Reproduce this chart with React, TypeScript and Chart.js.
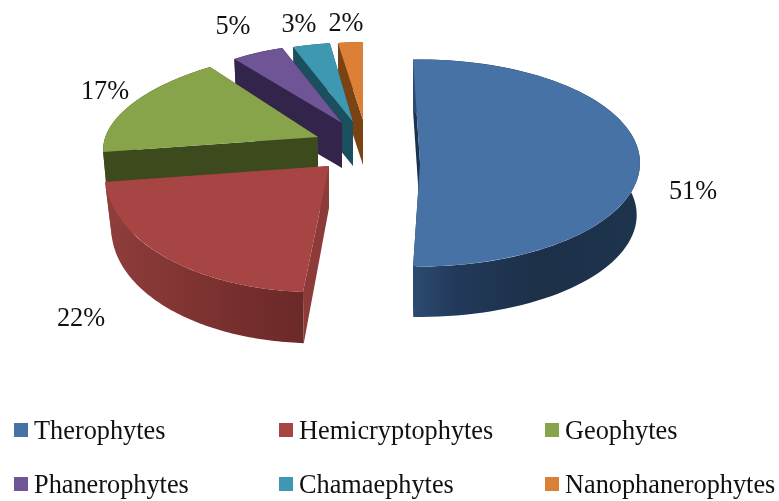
import React, { useEffect, useRef } from "react";
import { Chart, registerables } from "chart.js";

Chart.register(...registerables);

const categories = ["Therophytes", "Hemicryptophytes", "Geophytes", "Phanerophytes", "Chamaephytes", "Nanophanerophytes"];
const shares = [51, 22, 17, 5, 3, 2];
const topColors = ["#4672a6", "#a64543", "#87a44b", "#6f5496", "#3f98b2", "#da8137"];
const faceColors = ["#1b3350", "#8d3b39", "#3c4a1e", "#32244a", "#1c4f5d", "#7a4314"];
const wallStops = [
  ["#2c4b72", "#22395a", "#1c3048", "#1e344d"],
  ["#8f3e3c", "#833634", "#762f2d", "#6b2928"],
  ["#3c4a1e", "#3c4a1e", "#3c4a1e", "#3c4a1e"],
  ["#32244a", "#32244a", "#32244a", "#32244a"],
  ["#1c4f5d", "#1c4f5d", "#1c4f5d", "#1c4f5d"],
  ["#7a4314", "#7a4314", "#7a4314", "#7a4314"],
];

// Perspective frame of each exploded slice: where its tip lands, and how the flat pie is tilted there.
const frames = [
  { ox: 420, oy: 163, a: 220, b: 0, c: 0, d: 103.5, depth: 52, tipDepth: 50, shrink: 0.985 },
  { ox: 329, oy: 166, a: 223.7, b: 3.7, c: -19, d: 126.1, depth: 55, tipDepth: 42, shrink: 0.97 },
  { ox: 318, oy: 137, a: 213, b: -1, c: -28.6, d: 89.4, depth: 46, tipDepth: 45, shrink: 0.98 },
  { ox: 342, oy: 123, a: 175, b: 3, c: 0.5, d: 78.6, depth: 46, tipDepth: 45, shrink: 0.98 },
  { ox: 353, oy: 122, a: 200, b: -1, c: -8.3, d: 80, depth: 45, tipDepth: 44, shrink: 0.98 },
  { ox: 363, oy: 120, a: 200, b: 0, c: -6.3, d: 78, depth: 46, tipDepth: 45, shrink: 0.98 },
];
const labelSpots = [[693, 192], [81, 319], [105, 92], [233, 27], [299, 25], [346, 24]];
const legendColumns = [14, 279, 545];
const legendRows = [430, 484];
const serif = '"Liberation Serif", serif';
const textColor = "#111111";

const pie3d = {
  id: "pie3d",
  beforeDatasetDraw(chart: any) {
    const ctx = chart.ctx;
    const arcs = chart.getDatasetMeta(0).data;
    const order = [5, 4, 3, 2, 1, 0];
    for (const i of order) {
      const arc = arcs[i];
      const f = frames[i];
      const R = arc.outerRadius;
      const start = arc.startAngle;
      const end = arc.endAngle;
      const top = (phi: number) => {
        const X = Math.cos(phi);
        const Y = Math.sin(phi);
        return [f.ox + f.a * X + f.c * Y, f.oy + f.b * X + f.d * Y];
      };
      const low = (phi: number) => {
        const X = Math.cos(phi);
        const Y = Math.sin(phi);
        return [
          f.ox + f.shrink * (f.a * X + f.c * Y),
          f.oy + f.depth + f.shrink * (f.b * X + f.d * Y),
        ];
      };
      const poly = (pts: number[][], fill: any) => {
        ctx.beginPath();
        pts.forEach((p, n) => (n ? ctx.lineTo(p[0], p[1]) : ctx.moveTo(p[0], p[1])));
        ctx.closePath();
        ctx.fillStyle = fill;
        ctx.fill();
      };
      // cut faces
      const tipLow = [f.ox, f.oy + f.tipDepth];
      poly([[f.ox, f.oy], top(end), low(end), tipLow], faceColors[i]);
      poly([[f.ox, f.oy], top(start), low(start), tipLow], faceColors[i]);
      // outer wall
      const steps = 80;
      const upper: number[][] = [];
      const lower: number[][] = [];
      for (let s = 0; s <= steps; s++) {
        const phi = start + ((end - start) * s) / steps;
        upper.push(top(phi));
        lower.push(low(phi));
      }
      const xs = upper.map((p) => p[0]);
      const minX = Math.min(...xs);
      const maxX = Math.max(...xs);
      const grad = ctx.createLinearGradient(minX, 0, maxX, 0);
      const stops = wallStops[i];
      stops.forEach((col, n) => {
        const pos = n / (stops.length - 1);
        grad.addColorStop(i === 0 ? Math.pow(pos, 1.5) : pos, col);
      });
      poly([...upper, ...lower.reverse()], grad);
      // top face, drawn by the library's own arc element
      ctx.save();
      ctx.translate(f.ox, f.oy);
      ctx.transform(f.a / R, f.b / R, f.c / R, f.d / R, 0, 0);
      ctx.translate(-arc.x, -arc.y);
      arc.draw(ctx);
      ctx.restore();
    }
    return false;
  },
  afterDraw(chart: any) {
    const ctx = chart.ctx;
    ctx.save();
    ctx.fillStyle = textColor;
    ctx.font = `26.3px ${serif}`;
    ctx.textBaseline = "middle";
    ctx.textAlign = "center";
    shares.forEach((v, i) => ctx.fillText(`${v}%`, labelSpots[i][0], labelSpots[i][1]));
    ctx.textAlign = "left";
    ctx.textBaseline = "alphabetic";
    chart.data.labels.forEach((name: string, i: number) => {
      const x = legendColumns[i % 3];
      const y = legendRows[Math.floor(i / 3)];
      ctx.fillStyle = topColors[i];
      ctx.fillRect(x, y - 7, 14, 14);
      ctx.fillStyle = textColor;
      ctx.fillText(name, x + 20, y + 9);
    });
    ctx.restore();
  },
};

export default function App() {
  const ref = useRef<HTMLCanvasElement | null>(null);
  useEffect(() => {
    document.body.style.margin = "0";
    document.body.style.background = "#ffffff";
    const chart = new Chart(ref.current as HTMLCanvasElement, {
      type: "pie",
      data: {
        labels: categories,
        datasets: [{ data: shares, backgroundColor: topColors, borderWidth: 0 }],
      },
      options: {
        animation: false,
        responsive: false,
        rotation: -1.8,
        layout: { padding: 0 },
        plugins: { legend: { display: false }, tooltip: { enabled: false } },
      },
      plugins: [pie3d],
    } as any);
    return () => chart.destroy();
  }, []);
  return (
    <div style={{ width: 779, height: 501 }}>
      <canvas ref={ref} width={779} height={501} style={{ display: "block", filter: "blur(0.4px)" }} />
    </div>
  );
}
